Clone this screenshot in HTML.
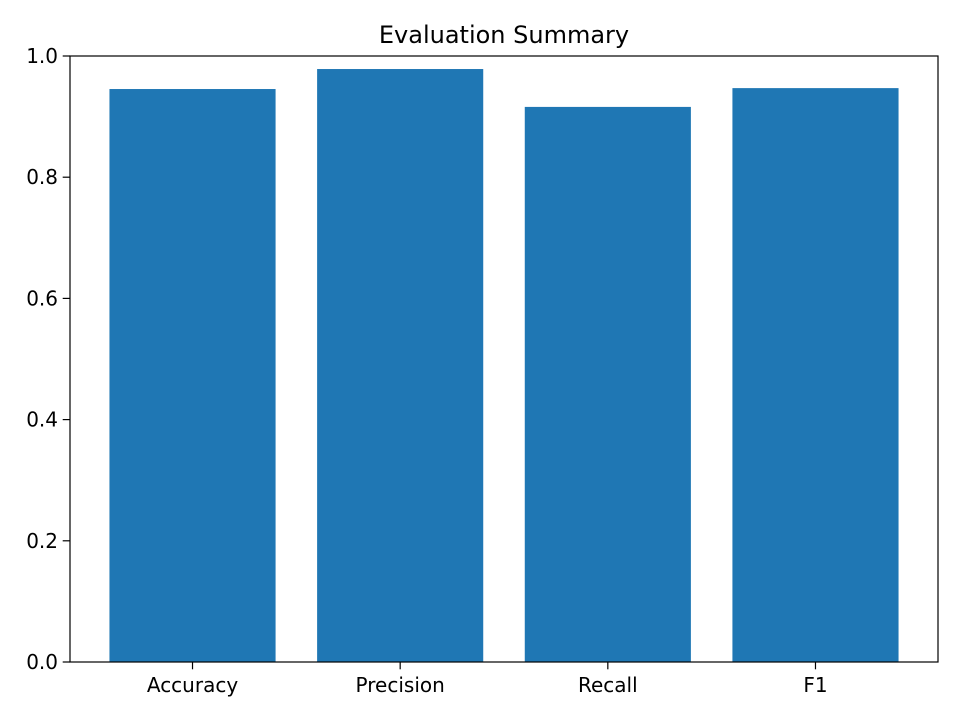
<!DOCTYPE html>
<html>
<head>
<meta charset="utf-8">
<style>
html,body{margin:0;padding:0;background:#fff;}
svg{display:block;font-family:"DejaVu Sans","Liberation Sans",sans-serif;}
</style>
</head>
<body>
<svg id="chart" width="960" height="720" viewBox="0 0 960 720">
<rect x="0" y="0" width="960" height="720" fill="#fff"/>
<text x="504" y="43" text-anchor="middle" font-size="24" fill="#000">Evaluation Summary</text>
<g id="bars"></g>
<g id="yticks"></g>
<g id="xticks"></g>
<rect x="70" y="56" width="868" height="606" fill="none" stroke="#000" stroke-width="1.2"/>
</svg>
<script>
const categories = ["Accuracy", "Precision", "Recall", "F1"];
const values = [0.9455, 0.9785, 0.916, 0.947];
const yTickLabels = ["0.0", "0.2", "0.4", "0.6", "0.8", "1.0"];
const yTickValues = [0, 0.2, 0.4, 0.6, 0.8, 1.0];

const NS = "http://www.w3.org/2000/svg";
const plotL = 70, plotR = 938, plotT = 56, plotB = 662;
const xMin = -0.59, xMax = categories.length - 1 + 0.59;
function xScale(v){ return plotL + (v - xMin) / (xMax - xMin) * (plotR - plotL); }
function yScale(v){ return plotB - v * (plotB - plotT); }
const barW = 0.8;

const bars = document.getElementById("bars");
const xt = document.getElementById("xticks");
const yt = document.getElementById("yticks");

categories.forEach((c, i) => {
  const r = document.createElementNS(NS, "rect");
  const x0 = xScale(i - barW/2), x1 = xScale(i + barW/2);
  r.setAttribute("x", x0);
  r.setAttribute("width", x1 - x0);
  r.setAttribute("y", yScale(values[i]));
  r.setAttribute("height", yScale(0) - yScale(values[i]));
  r.setAttribute("fill", "#1f77b4");
  
  
  bars.appendChild(r);

  const tk = document.createElementNS(NS, "line");
  const cx = xScale(i);
  tk.setAttribute("x1", cx); tk.setAttribute("x2", cx);
  tk.setAttribute("y1", plotB); tk.setAttribute("y2", plotB + 7.3);
  tk.setAttribute("stroke", "#000"); tk.setAttribute("stroke-width", "1.2");
  
  
  xt.appendChild(tk);

  const t = document.createElementNS(NS, "text");
  t.setAttribute("x", cx); t.setAttribute("y", plotB + 30);
  t.setAttribute("text-anchor", "middle"); t.setAttribute("font-size", "20");
  t.textContent = c;
  
  
  xt.appendChild(t);
});

yTickValues.forEach((v, i) => {
  const y = yScale(v);
  const tk = document.createElementNS(NS, "line");
  tk.setAttribute("x1", plotL - 7.3); tk.setAttribute("x2", plotL);
  tk.setAttribute("y1", y); tk.setAttribute("y2", y);
  tk.setAttribute("stroke", "#000"); tk.setAttribute("stroke-width", "1.2");
  
  
  yt.appendChild(tk);

  const t = document.createElementNS(NS, "text");
  t.setAttribute("x", plotL - 12); t.setAttribute("y", y + 7);
  t.setAttribute("text-anchor", "end"); t.setAttribute("font-size", "20");
  t.textContent = yTickLabels[i];
  
  
  yt.appendChild(t);
});
</script>
</body>
</html>
